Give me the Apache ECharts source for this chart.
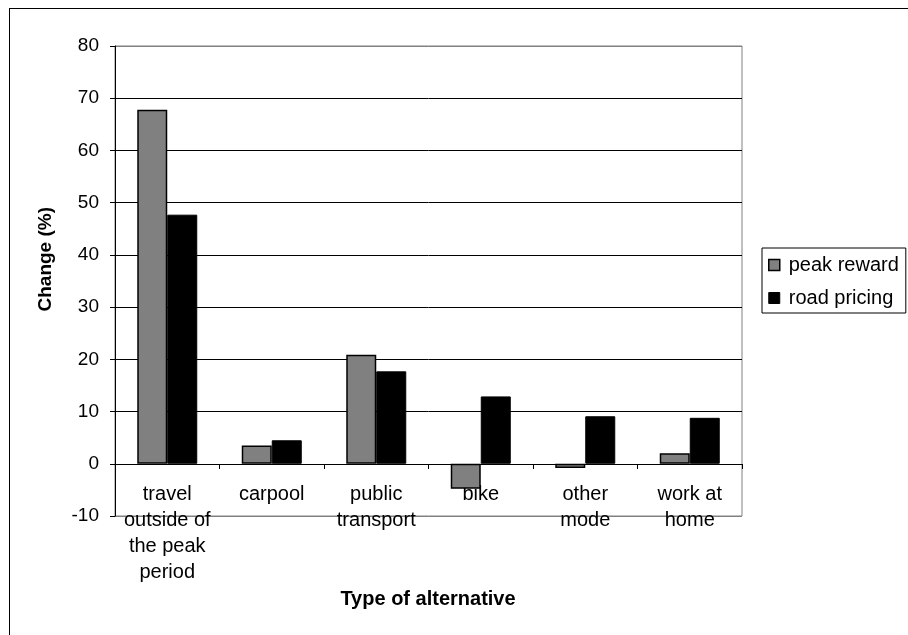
<!DOCTYPE html>
<html>
<head>
<meta charset="utf-8">
<script src="https://cdn.jsdelivr.net/npm/echarts@6/dist/echarts.min.js"></script>
<style>
  html, body { margin: 0; padding: 0; background: #fff; }
  #frame { position: absolute; left: 9px; top: 8px; width: 960px; height: 700px; border: 1px solid #000; box-sizing: border-box; }
  #chart { position: absolute; left: 0; top: 0; width: 908px; height: 635px; }
</style>
</head>
<body>
<div id="frame"></div>
<div id="chart"></div>
<script>
const categories = ["travel\noutside of\nthe peak\nperiod", "carpool", "public\ntransport", "bike", "other\nmode", "work at\nhome"];
const peakReward = [67.8, 3.5, 20.9, -4.8, -0.8, 2.0];
const roadPricing = [47.7, 4.5, 17.7, 12.9, 9.1, 8.8];
const seriesNames = ["peak reward", "road pricing"];
const yTicks = { min: -10, max: 80, interval: 10 };

const FONT = "Arial, 'Liberation Sans', sans-serif";
const chart = echarts.init(document.getElementById('chart'), null, { renderer: 'canvas' });
chart.setOption({
  animation: false,
  backgroundColor: 'transparent',
  textStyle: { fontFamily: FONT, color: '#000' },
  grid: { left: 115, top: 46, right: 166, bottom: 119, show: true, borderColor: '#808080', borderWidth: 1, backgroundColor: 'transparent' },
  legend: {
    orient: 'vertical', left: 762, top: 248,
    padding: [7, 7, 5, 6], itemGap: 13,
    borderColor: '#000', borderWidth: 1,
    itemWidth: 11, itemHeight: 11,
    textStyle: { fontFamily: FONT, fontSize: 20, lineHeight: 20, color: '#000', padding: [0, 0, 0, 4] },
    data: [
      { name: seriesNames[0], icon: 'rect', itemStyle: { color: '#808080', borderColor: '#000', borderWidth: 1.5 } },
      { name: seriesNames[1], icon: 'rect', itemStyle: { color: '#000', borderColor: '#000', borderWidth: 1 } }
    ]
  },
  xAxis: {
    type: 'category', data: categories,
    offset: -52,
    axisLine: { onZero: false, lineStyle: { color: '#000', width: 1 } },
    axisTick: { show: true, inside: false, length: 5, alignWithLabel: false, lineStyle: { color: '#000' } },
    axisLabel: { interval: 0, fontFamily: FONT, fontSize: 20, color: '#000', lineHeight: 26, margin: 17 },
    splitLine: { show: false }
  },
  yAxis: {
    type: 'value', min: yTicks.min, max: yTicks.max, interval: yTicks.interval,
    axisLine: { show: true, lineStyle: { color: '#000', width: 1 } },
    axisTick: { show: true, inside: false, length: 5, lineStyle: { color: '#000' } },
    axisLabel: { fontFamily: FONT, fontSize: 19, color: '#000', margin: 16 },
    splitLine: { show: true, lineStyle: { color: ['#808080', '#000', '#000', '#000', '#000', '#000', '#000', '#000', '#000', '#808080'], width: 1 } }
  },
  series: [
    { name: seriesNames[0], type: 'bar', data: peakReward, barWidth: 30, barGap: '0%',
      itemStyle: { color: '#808080', borderColor: '#000', borderWidth: 1.5 } },
    { name: seriesNames[1], type: 'bar', data: roadPricing, barWidth: 30, barGap: '0%',
      itemStyle: { color: '#000', borderColor: '#000', borderWidth: 1 } }
  ],
  graphic: [
    { type: 'text', left: 36, top: 207, rotation: Math.PI / 2,
      style: { text: 'Change (%)', fontFamily: FONT, fontSize: 19, fontWeight: 'bold', fill: '#000' } },
    { type: 'text', x: 428, y: 589,
      style: { text: 'Type of alternative', textAlign: 'center', textVerticalAlign: 'top', fontFamily: FONT, fontSize: 20, fontWeight: 'bold', fill: '#000' } }
  ]
});
</script>
</body>
</html>
